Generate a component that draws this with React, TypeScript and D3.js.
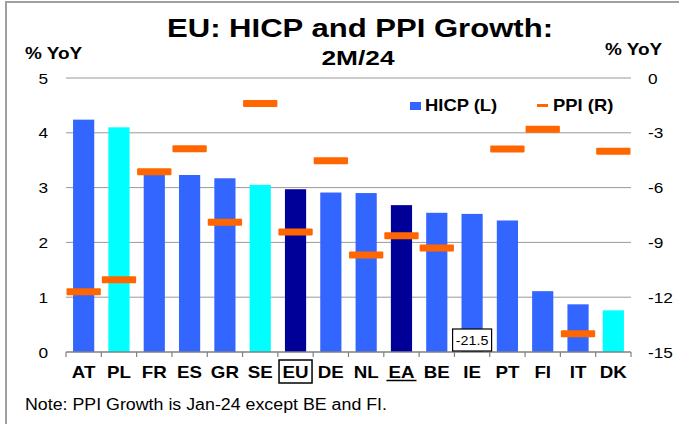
import * as d3 from 'd3'
import type { ReactNode } from 'react'

// HICP growth (left axis, % YoY) and PPI growth (right axis, % YoY), 2M/24
const countries = ['AT', 'PL', 'FR', 'ES', 'GR', 'SE', 'EU', 'DE', 'NL', 'EA', 'BE', 'IE', 'PT', 'FI', 'IT', 'DK']
const hicp = [4.24, 4.1, 3.26, 3.23, 3.17, 3.05, 2.97, 2.91, 2.9, 2.68, 2.54, 2.52, 2.4, 1.11, 0.87, 0.76]
const ppi: (number | null)[] = [-11.7, -11.05, -5.13, -3.87, -7.9, -1.4, -8.43, -4.53, -9.69, -8.64, -9.31, -21.5, -3.89, -2.8, -14.0, -4.01]
const barKind = ['eu', 'non', 'eu', 'eu', 'eu', 'non', 'agg', 'eu', 'eu', 'agg', 'eu', 'eu', 'eu', 'eu', 'eu', 'non']
const leftTicks = [0, 1, 2, 3, 4, 5]
const rightTicks = [0, -3, -6, -9, -12, -15]

const W = 679
const H = 424
const margin = { top: 78, right: 48, bottom: 72, left: 66 }
const FONT = 'Liberation Sans, Arial, sans-serif'
const SX = 1.15 // the original's lettering is a bit wider than Arial

const colors: Record<string, string> = {
  eu: '#3366ff',
  non: '#00ffff',
  agg: '#000099',
}

function T({ x, y, size, bold, anchor = 'start', sx = SX, children }: {
  x: number
  y: number
  size: number
  bold?: boolean
  anchor?: 'start' | 'middle' | 'end'
  sx?: number
  children: ReactNode
}) {
  return (
    <text
      transform={`translate(${x},${y}) scale(${sx},1)`}
      textAnchor={anchor}
      fontSize={size}
      fontWeight={bold ? 'bold' : 'normal'}
      fill="#000"
    >
      {children}
    </text>
  )
}

export default function App() {
  const x0 = margin.left
  const x1 = W - margin.right
  const yTop = margin.top
  const yBot = H - margin.bottom

  const x = d3.scaleBand<string>().domain(countries).range([x0, x1]).paddingInner(0).paddingOuter(0)
  const yL = d3.scaleLinear().domain([0, 5]).range([yBot, yTop])
  const yR = d3.scaleLinear().domain([-15, 0]).range([yBot, yTop])
  const bw = x.bandwidth() * 0.6

  return (
    <svg width={W} height={H} style={{ position: 'absolute', left: 0, top: 0, fontFamily: FONT }}>
      <rect x={0} y={0} width={W} height={H} fill="#fff" />
      {/* frame */}
      <rect x={6} y={2} width={W + 10} height={H + 10} fill="none" stroke="#a0a0a0" strokeWidth={2} />

      {/* title */}
      <text x={360} y={37} textAnchor="middle" fontSize={26.5} fontWeight="bold" textLength={386} lengthAdjust="spacingAndGlyphs">
        EU: HICP and PPI Growth:
      </text>
      <text x={358} y={65} textAnchor="middle" fontSize={21} fontWeight="bold" textLength={73} lengthAdjust="spacingAndGlyphs">
        2M/24
      </text>
      <T x={25} y={59} size={16.5} bold>% YoY</T>
      <T x={605} y={55} size={16.5} bold>% YoY</T>

      {/* gridlines */}
      {leftTicks.filter((t) => t > 0).map((t) => (
        <line key={t} x1={x0} x2={x1} y1={yL(t)} y2={yL(t)} stroke="#999" strokeWidth={1} />
      ))}

      {/* left tick labels */}
      {leftTicks.map((t) => (
        <T key={t} x={48} y={yL(t) + 5.5} size={15} anchor="end">{t}</T>
      ))}
      {/* right tick labels */}
      {rightTicks.map((t) => (
        <T key={t} x={648} y={yR(t) + 5.5} size={15}>{t}</T>
      ))}

      {/* HICP bars */}
      {countries.map((c, i) => (
        <rect
          key={c}
          x={(x(c) as number) + (x.bandwidth() - bw) / 2}
          y={yL(hicp[i])}
          width={bw}
          height={yBot - yL(hicp[i])}
          fill={colors[barKind[i]]}
        />
      ))}

      {/* x axis */}
      <line x1={x0} x2={x1} y1={yBot} y2={yBot} stroke="#808080" strokeWidth={1.5} />
      {d3.range(countries.length + 1).map((i) => {
        const xx = x0 + i * x.step()
        return <line key={i} x1={xx} x2={xx} y1={yBot} y2={yBot + 5} stroke="#808080" strokeWidth={1.2} />
      })}

      {/* PPI markers */}
      {countries.map((c, i) => {
        const v = ppi[i]
        if (v == null || v < -15) return null
        return (
          <rect
            key={c}
            x={(x(c) as number) + 0.5}
            y={yR(v) - 3.5}
            width={x.bandwidth() - 1}
            height={7}
            rx={1}
            fill="#ff6600"
          />
        )
      })}

      {/* off-scale PPI label */}
      {countries.map((c, i) => {
        const v = ppi[i]
        if (v == null || v >= -15) return null
        const cx = (x(c) as number) + x.bandwidth() / 2
        return (
          <g key={c}>
            <rect x={cx - 19.5} y={329} width={39} height={22} fill="#fff" stroke="#000" strokeWidth={1.2} />
            <T x={cx} y={345} size={13} anchor="middle" sx={1.1}>{v.toFixed(1)}</T>
          </g>
        )
      })}

      {/* category labels */}
      {countries.map((c) => {
        const cx = (x(c) as number) + x.bandwidth() / 2
        return (
          <g key={c}>
            <T x={cx} y={378} size={16.3} bold anchor="middle">{c}</T>
            {c === 'EU' && (
              <rect x={cx - 16.5} y={360} width={33} height={23} fill="none" stroke="#000" strokeWidth={1.5} />
            )}
            {c === 'EA' && <line x1={cx - 15} x2={cx + 15} y1={380.5} y2={380.5} stroke="#000" strokeWidth={1.5} />}
          </g>
        )
      })}

      {/* legend */}
      <rect x={410} y={102} width={11} height={8} fill={colors.eu} />
      <T x={425} y={110.5} size={16} bold>HICP (L)</T>
      <rect x={537} y={104} width={11} height={3} fill="#ff6600" />
      <T x={553} y={110.5} size={16} bold>PPI (R)</T>

      {/* note */}
      <text x={25} y={410} fontSize={15.8} textLength={362} lengthAdjust="spacingAndGlyphs">
        Note: PPI Growth is Jan-24 except BE and FI.
      </text>
    </svg>
  )
}
